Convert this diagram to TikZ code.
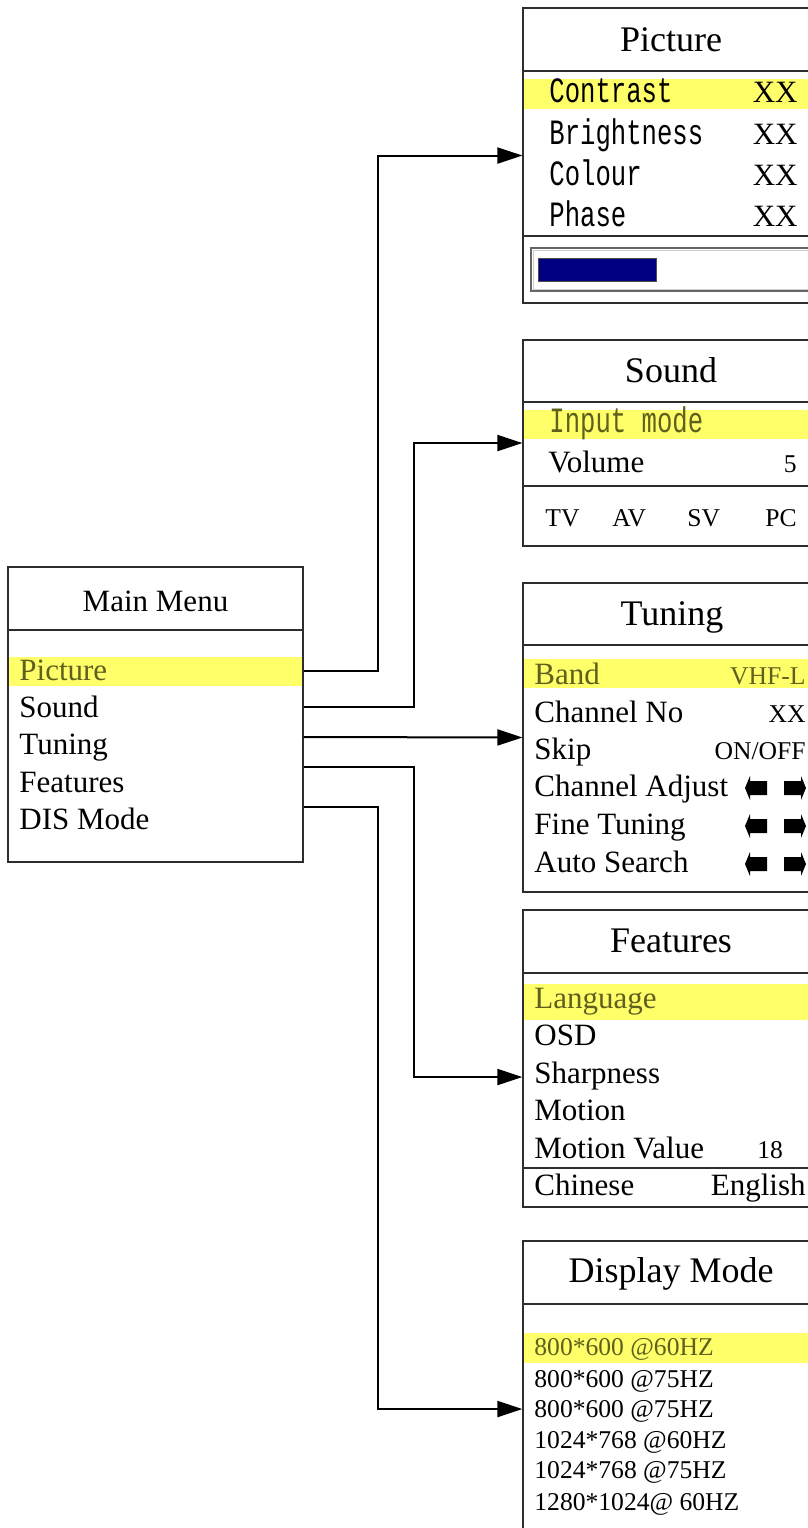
\documentclass[tikz,border=0pt]{standalone}
\usepackage{fontspec}
\setmainfont{Liberation Serif}
\newfontfamily\monof[FakeStretch=0.72]{Liberation Mono}
\usetikzlibrary{arrows.meta}
\definecolor{hlfill}{RGB}{255,255,105}
\definecolor{hltext}{RGB}{95,95,30}
\definecolor{barnavy}{RGB}{0,0,128}
\definecolor{boxline}{RGB}{45,45,45}
\newcommand\fTitle{\fontsize{18pt}{21pt}\selectfont}
\newcommand\fBody{\fontsize{15.5pt}{18pt}\selectfont}
\newcommand\fSmall{\fontsize{12.8pt}{15pt}\selectfont}
\newcommand\fMono{\monof\fontsize{17.8pt}{20pt}\selectfont}
\tikzset{
 panel/.style={draw=boxline, line width=0.6pt, rectangle, inner sep=0pt},
 sepline/.style={draw=boxline, line width=0.6pt},
 hl/.style={fill=hlfill},
 ttl/.style={font=\fTitle, anchor=base, inner sep=0pt},
 mttl/.style={font=\fBody, anchor=base, inner sep=0pt},
 item/.style={font=\fBody, anchor=base west, inner sep=0pt},
 itemr/.style={font=\fBody, anchor=base east, inner sep=0pt},
 sitem/.style={font=\fSmall, anchor=base west, inner sep=0pt},
 sitemr/.style={font=\fSmall, anchor=base east, inner sep=0pt},
 mitem/.style={font=\fMono, anchor=base west, inner sep=0pt},
 hltxt/.style={text=hltext},
 conn/.style={draw=black, line width=1pt, -{Triangle[length=12.5pt,width=8pt]}},
 blockarrow/.style={fill=black},
}
\begin{document}
\begin{tikzpicture}[x=0.5pt,y=-0.5pt]
\useasboundingbox (0,0) rectangle (808,1528);
\clip (0,0) rectangle (808,1528);

% highlights
\fill[hl] (8,657) rectangle (303,686);
\fill[hl] (523,79) rectangle (830,109);
\fill[hl] (523,410) rectangle (830,439);
\fill[hl] (523,659) rectangle (830,688);
\fill[hl] (523,984) rectangle (830,1020);
\fill[hl] (523,1333) rectangle (830,1363);

% panels
\node[panel, minimum width=147.5pt, minimum height=147.5pt] (mainmenu) at (155.5,714.5) {};
\node[panel, minimum width=148pt, minimum height=147.5pt] (picture) at (671,155.5) {};
\node[panel, minimum width=148pt, minimum height=103pt] (sound) at (671,443) {};
\node[panel, minimum width=148pt, minimum height=154.5pt] (tuning) at (671,737.5) {};
\node[panel, minimum width=148pt, minimum height=148.5pt] (features) at (671,1058.5) {};
\node[panel, minimum width=148pt, minimum height=159.5pt] (display) at (671,1400.5) {};

% separators
\draw[sepline] (mainmenu.west |- 0,630) -- (mainmenu.east |- 0,630);
\draw[sepline] (picture.west |- 0,71) -- (picture.east |- 0,71);
\draw[sepline] (picture.west |- 0,236) -- (picture.east |- 0,236);
\draw[sepline] (sound.west |- 0,402) -- (sound.east |- 0,402);
\draw[sepline] (sound.west |- 0,486) -- (sound.east |- 0,486);
\draw[sepline] (tuning.west |- 0,645) -- (tuning.east |- 0,645);
\draw[sepline] (features.west |- 0,973) -- (features.east |- 0,973);
\draw[sepline] (features.west |- 0,1168) -- (features.east |- 0,1168);
\draw[sepline] (display.west |- 0,1304) -- (display.east |- 0,1304);

% main menu
\node[mttl] (mmTitle) at (155.5,611) {Main Menu};
\node[item, hltxt] (mmPicture) at (19,680) {Picture};
\node[item] (mmSound) at (19,717) {Sound};
\node[item] (mmTuning) at (19,754) {Tuning};
\node[item] (mmFeatures) at (19,792) {Features};
\node[item] (mmDis) at (19,829) {DIS Mode};

% picture panel
\node[ttl] (picTitle) at (671,51) {Picture};
\node[mitem] (picContrast) at (549,102) {Contrast};
\node[itemr] (picContrastV) at (798,102) {XX};
\node[mitem] (picBright) at (549,144) {Brightness};
\node[itemr] (picBrightV) at (798,144) {XX};
\node[mitem] (picColour) at (549,185) {Colour};
\node[itemr] (picColourV) at (798,185) {XX};
\node[mitem] (picPhase) at (549,226) {Phase};
\node[itemr] (picPhaseV) at (798,226) {XX};
\draw[draw=gray!80!black, line width=0.6pt] (531,248) rectangle (830,291);
\draw[draw=gray!40, line width=0.5pt] (533,250) rectangle (830,289);
\draw[fill=barnavy, draw=black!70, line width=0.4pt] (538,258) rectangle (656,281);

% sound panel
\node[ttl] (sndTitle) at (671,382) {Sound};
\node[mitem, hltxt] (sndInput) at (549,432) {Input mode};
\node[item] (sndVolume) at (548,472) {Volume};
\node[sitemr] (sndVolumeV) at (797,472) {5};
\node[sitem] (sndTV) at (545,526) {TV};
\node[sitem] (sndAV) at (612,526) {AV};
\node[sitem] (sndSV) at (687,526) {SV};
\node[sitem] (sndPC) at (765,526) {PC};

% tuning panel
\node[ttl] (tunTitle) at (672,625) {Tuning};
\node[item, hltxt] (tunBand) at (534,684) {Band};
\node[sitemr, hltxt] (tunBandV) at (806,684) {VHF-L};
\node[item] (tunChan) at (534,722) {Channel No};
\node[sitemr] (tunChanV) at (806,722) {XX};
\node[item] (tunSkip) at (534,759) {Skip};
\node[sitemr] (tunSkipV) at (806,759) {ON/OFF};
\node[item] (tunAdj) at (534,796) {Channel Adjust};
\node[item] (tunFine) at (534,834) {Fine Tuning};
\node[item] (tunAuto) at (534,872) {Auto Search};
\foreach \c in {788,826,864} {
  \fill[blockarrow] (745,\c) -- (750,\c-12) -- (750,\c-7) -- (767,\c-7)
     -- (767,\c+7) -- (750,\c+7) -- (750,\c+12) -- cycle;
  \fill[blockarrow] (806,\c) -- (801,\c-12) -- (801,\c-7) -- (784,\c-7)
     -- (784,\c+7) -- (801,\c+7) -- (801,\c+12) -- cycle;
}

% features panel
\node[ttl] (feaTitle) at (671,952) {Features};
\node[item, hltxt] (feaLang) at (534,1008) {Language};
\node[item] (feaOSD) at (534,1045) {OSD};
\node[item] (feaSharp) at (534,1083) {Sharpness};
\node[item] (feaMotion) at (534,1120) {Motion};
\node[item] (feaMotionV) at (534,1158) {Motion Value};
\node[sitem] (feaMotionN) at (757,1158) {18};
\node[item] (feaChinese) at (534,1195) {Chinese};
\node[itemr] (feaEnglish) at (806,1195) {English};

% display panel
\node[ttl] (disTitle) at (671,1282) {Display Mode};
\node[sitem, hltxt] (dis1) at (534,1355) {800*600 @60HZ};
\node[sitem] (dis2) at (534,1387) {800*600 @75HZ};
\node[sitem] (dis3) at (534,1417) {800*600 @75HZ};
\node[sitem] (dis4) at (534,1448) {1024*768 @60HZ};
\node[sitem] (dis5) at (534,1478) {1024*768 @75HZ};
\node[sitem] (dis6) at (534,1510) {1280*1024@ 60HZ};

% connectors
\coordinate (outPic) at (mainmenu.east |- 0,671);
\coordinate (outSnd) at (mainmenu.east |- 0,707);
\coordinate (outTun) at (mainmenu.east |- 0,737);
\coordinate (outFea) at (mainmenu.east |- 0,767);
\coordinate (outDis) at (mainmenu.east |- 0,807);
\coordinate (inFea) at (features.west |- 0,1077);
\coordinate (inDis) at (display.west |- 0,1409);
\draw[conn] (outPic) -- ++(74,0) |- (picture.west);
\draw[conn] (outSnd) -- ++(110,0) |- (sound.west);
\draw[conn] (outTun) -- (tuning.west);
\draw[conn] (outFea) -- ++(110,0) |- (inFea);
\draw[conn] (outDis) -- ++(74,0) |- (inDis);
\end{tikzpicture}
\end{document}
